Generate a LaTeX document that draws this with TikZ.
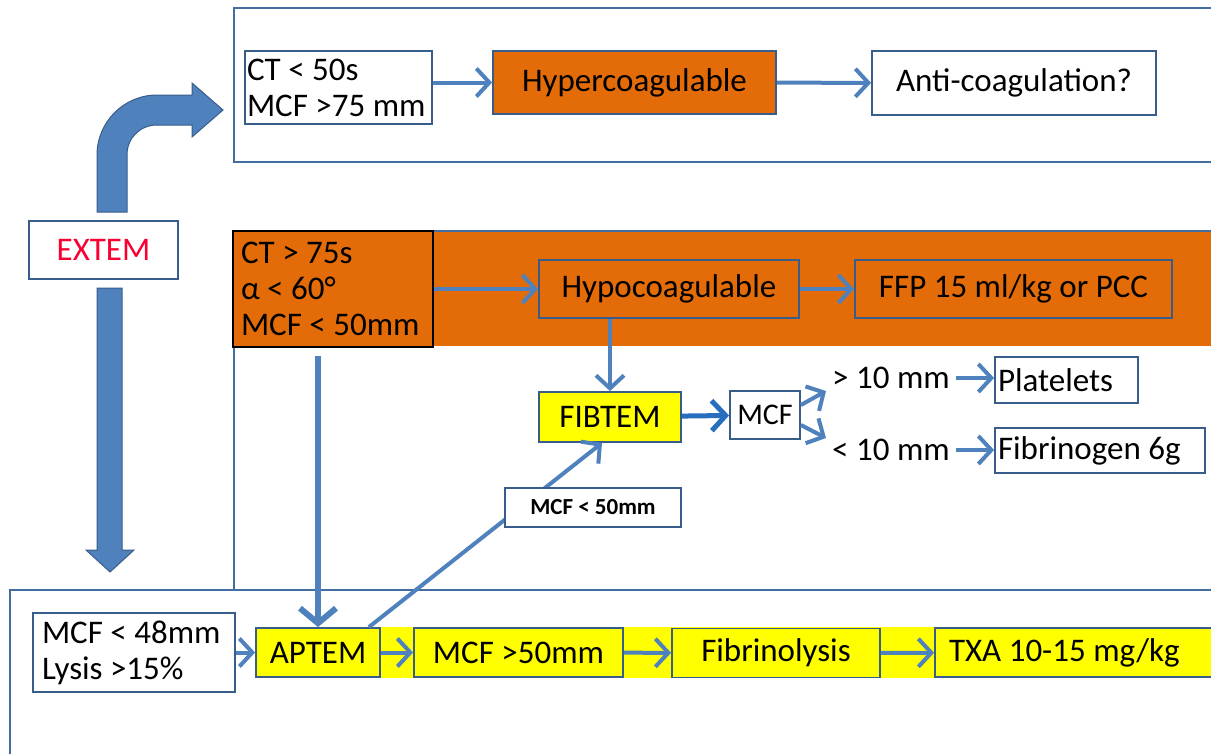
\documentclass[tikz,border=0pt]{standalone}
\usepackage{fontspec}
\setmainfont{Carlito}
\usepackage{xcolor}
\usepackage{tikz}
\usetikzlibrary{arrows.meta}
\definecolor{officeblue}{RGB}{79,129,189}
\definecolor{boxblue}{RGB}{56,93,138}
\definecolor{deepblue}{RGB}{40,110,190}
\definecolor{hypoorange}{RGB}{227,108,9}
\definecolor{aptyellow}{RGB}{255,255,0}
\definecolor{extemred}{RGB}{250,0,50}

\begin{document}
\begin{tikzpicture}[x=1pt,y=-1pt,
    panel/.style={draw=officeblue!85!black, line width=1.8pt},
    box/.style={draw=boxblue, line width=1.8pt, fill=white, inner sep=0pt,
        font=\fontsize{33}{36}\selectfont},
    lbox/.style={box, align=left, text width=#1,
        execute at begin node={\spaceskip=0pt\xspaceskip=0pt}},
    arrow/.style={draw=officeblue, line width=4pt, -{Straight Barb[length=13pt,width=28pt]}},
    bigarrow/.style={fill=officeblue, draw=boxblue, line width=1pt}
]
    \useasboundingbox (0,0) rectangle (1211,753);

    % Panels
    \draw[panel] (234,8) rectangle (1230,162);
    \fill[hypoorange] (234,230) rectangle (1230,346);
    \draw[panel] (234,231) rectangle (1230,590);
    \draw[panel] (10,590) rectangle (1230,770);
    \fill[aptyellow] (256,627) rectangle (1230,678);

    % Block arrows out of EXTEM
    \path[bigarrow] (97,212) -- (97,155) .. controls (97,122) and (124,95) .. (157,95)
        -- (192,95) -- (192,83) -- (223,110) -- (192,137) -- (192,125) -- (157,125)
        .. controls (140,125) and (127,138) .. (127,155) -- (127,212) -- cycle;
    \path[bigarrow] (97,288) -- (122,288) -- (122,550) -- (134,550) -- (110,572)
        -- (86,550) -- (97,550) -- cycle;

    \node[box, minimum width=149pt, minimum height=58pt, text=extemred] (extem) at (103.5,250) {EXTEM};

    % Hypercoagulable row
    \node[lbox=183pt, minimum height=73pt, inner xsep=2pt] (ctlow) at (338.5,87.5) {CT < 50s\\MCF >75 mm};
    \node[box, fill=hypoorange, minimum width=283pt, minimum height=63pt] (hyper) at (634.5,82.5) {Hypercoagulable};
    \node[box, minimum width=284pt, minimum height=64pt] (anti) at (1014,83) {Anti-coagulation?};
    \draw[arrow] (ctlow.east |- hyper.west) -- (hyper.west);
    \draw[arrow] (hyper) -- (anti);

    % Hypocoagulable row
    \node[lbox=184pt, draw=black, fill=hypoorange, minimum height=116pt, inner xsep=8pt] (cthigh) at (333,289)
        {CT > 75s\\α < 60°\\MCF < 50mm};
    \node[box, fill=hypoorange, minimum width=260pt, minimum height=58pt] (hypo) at (669,289) {Hypocoagulable};
    \node[box, fill=hypoorange, minimum width=317pt, minimum height=58pt] (ffp) at (1013.5,289) {FFP 15 ml/kg or PCC};
    \draw[arrow] (cthigh) -- (hypo);
    \draw[arrow] (hypo) -- (ffp);

    % FIBTEM branch
    \node[box, fill=aptyellow, minimum width=142pt, minimum height=50pt] (fibtem) at (610,417) {FIBTEM};
    \node[box, minimum width=70pt, minimum height=48pt, font=\fontsize{30}{33}\selectfont] (mcf) at (765,415) {MCF};
    \node[anchor=west, inner sep=0pt, font=\fontsize{33}{36}\selectfont] (gt) at (832,378) {> 10 mm};
    \node[anchor=west, inner sep=0pt, font=\fontsize{33}{36}\selectfont] (lt) at (832,450) {< 10 mm};
    \node[lbox=137pt, minimum height=46pt, inner xsep=3pt] (plat) at (1066.5,380) {Platelets};
    \node[lbox=204pt, minimum height=45pt, inner xsep=3pt] (fibr) at (1100,450.5) {Fibrinogen 6g};
    \coordinate (up) at (826,391);
    \coordinate (dn) at (826,438);
    \draw[arrow] (hypo.south -| fibtem) -- (fibtem);
    \draw[arrow, draw=deepblue, line width=5pt, -{Straight Barb[length=14pt,width=30pt]}] (fibtem) -- (mcf);
    \draw[arrow] ([yshift=10pt]mcf.east) -- (up);
    \draw[arrow] ([yshift=-10pt]mcf.east) -- (dn);
    \draw[arrow, shorten <=6pt] (gt.east) -- (plat.west |- gt.east);
    \draw[arrow, shorten <=6pt] (lt.east) -- (fibr.west |- lt.east);

    % APTEM row
    \node[lbox=184pt, minimum height=79pt, inner xsep=9pt] (mcf48) at (134,652.5) {MCF < 48mm\\Lysis >15\%};
    \node[box, fill=aptyellow, minimum width=124pt, minimum height=49pt] (aptem) at (318,652.5) {APTEM};
    \node[box, fill=aptyellow, minimum width=209pt, minimum height=49pt] (mcf50) at (518.5,652.5) {MCF >50mm};
    \node[box, fill=aptyellow, minimum width=208pt, minimum height=49pt] (fibrin) at (776,653) {Fibrinolysis};
    \node[lbox=272pt, fill=aptyellow, minimum height=49pt, inner xsep=14pt] (txa) at (1085,652.5) {TXA 10-15 mg/kg};
    \draw[arrow] (mcf48) -- (aptem);
    \draw[arrow] (aptem) -- (mcf50);
    \draw[arrow] (mcf50) -- (fibrin);
    \draw[arrow] (fibrin) -- (txa);
    \draw[arrow, line width=6pt, shorten <=8pt, -{Straight Barb[length=15pt,width=36pt]}]
        (cthigh.south -| aptem) -- (aptem.north);
    \draw[arrow] ([xshift=-12pt]aptem.north east) -- ([xshift=-8pt]fibtem.south);
    \node[box, line width=1.5pt, minimum width=176pt, minimum height=39pt,
        font=\fontsize{23}{26}\selectfont\bfseries] (mcflab) at (593,507.5) {MCF < 50mm};
\end{tikzpicture}
\end{document}
